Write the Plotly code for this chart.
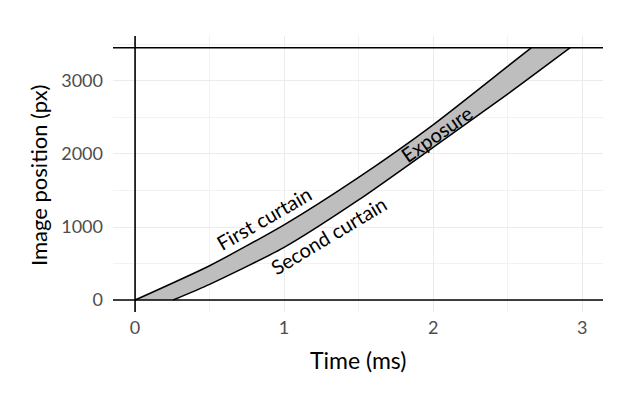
import plotly.graph_objects as go

# Data
first_t = [0.0, 0.5, 1.0, 1.5, 2.0, 2.5, 2.66]
first_y = [0, 470, 1030, 1680, 2400, 3200, 3456]
second_t = [0.255, 0.5, 1.0, 1.5, 2.0, 2.5, 2.92]
second_y = [0, 215, 720, 1370, 2090, 2820, 3456]
sensor_height = 3456

x_ticks = [0, 1, 2, 3]
y_ticks = [0, 1000, 2000, 3000]

labels = ["First curtain", "Second curtain", "Exposure"]
label_t = [0.865, 1.30, 2.02]
label_y = [1130, 895, 2270]
label_angle = [-30, -31, -35]

FONT = "Lato, 'Open Sans', sans-serif"

fig = go.Figure()
fig.add_trace(go.Scatter(x=second_t, y=second_y, mode="lines",
                         line=dict(color="black", width=1.5, shape="spline", smoothing=0.6),
                         hoverinfo="skip", showlegend=False))
fig.add_trace(go.Scatter(x=first_t, y=first_y, mode="lines", fill="tonexty",
                         fillcolor="#bebebe",
                         line=dict(color="black", width=1.5, shape="spline", smoothing=0.6),
                         hoverinfo="skip", showlegend=False))

fig.add_hline(y=0, line=dict(color="black", width=1.6))
fig.add_hline(y=sensor_height, line=dict(color="black", width=1.6))
fig.add_vline(x=0, line=dict(color="black", width=1.6))

for txt, tx, ty, ang in zip(labels, label_t, label_y, label_angle):
    fig.add_annotation(x=tx, y=ty, text=txt, showarrow=False, textangle=ang,
                       font=dict(family=FONT, size=20, color="black"))

plot_w = 640 - 113 - 37
plot_h = 400 - 36 - 88
# axis titles
fig.add_annotation(x=(358 - 113) / plot_w, xref="paper", y=(400 - 88 - 360) / plot_h,
                   yref="paper", yanchor="middle", xanchor="center",
                   text="Time (ms)", showarrow=False,
                   font=dict(family=FONT, size=23, color="black"))
fig.add_annotation(x=(38 - 113) / plot_w, xref="paper", y=(400 - 88 - 175) / plot_h,
                   yref="paper", xanchor="center", yanchor="middle",
                   text="Image position (px)", showarrow=False, textangle=-90,
                   font=dict(family=FONT, size=22, color="black"))

fig.update_layout(
    width=640, height=400,
    margin=dict(l=113, r=37, t=36, b=88),
    paper_bgcolor="white", plot_bgcolor="white",
    font=dict(family=FONT),
)

fig.update_xaxes(range=[-0.148, 3.14], tickvals=x_ticks, ticktext=[str(v) for v in x_ticks],
                 showgrid=True, gridcolor="#ebebeb", gridwidth=1.2,
                 minor=dict(dtick=0.5, showgrid=True, gridcolor="#f2f2f2", gridwidth=0.8),
                 zeroline=False, showline=False, ticks="", automargin=False,
                 ticklabelstandoff=3,
                 tickfont=dict(family=FONT, size=18, color="#4d4d4d"))
fig.update_yaxes(range=[-164, 3616], tickvals=y_ticks, ticktext=[str(v) for v in y_ticks],
                 showgrid=True, gridcolor="#ebebeb", gridwidth=1.2,
                 minor=dict(dtick=500, showgrid=True, gridcolor="#f2f2f2", gridwidth=0.8),
                 zeroline=False, showline=False, ticks="", automargin=False,
                 ticklabelstandoff=9,
                 tickfont=dict(family=FONT, size=18, color="#4d4d4d"))

fig.write_html("out.html", config={"displayModeBar": False},
               post_script="document.body.style.margin='0';document.body.style.padding='0';")
